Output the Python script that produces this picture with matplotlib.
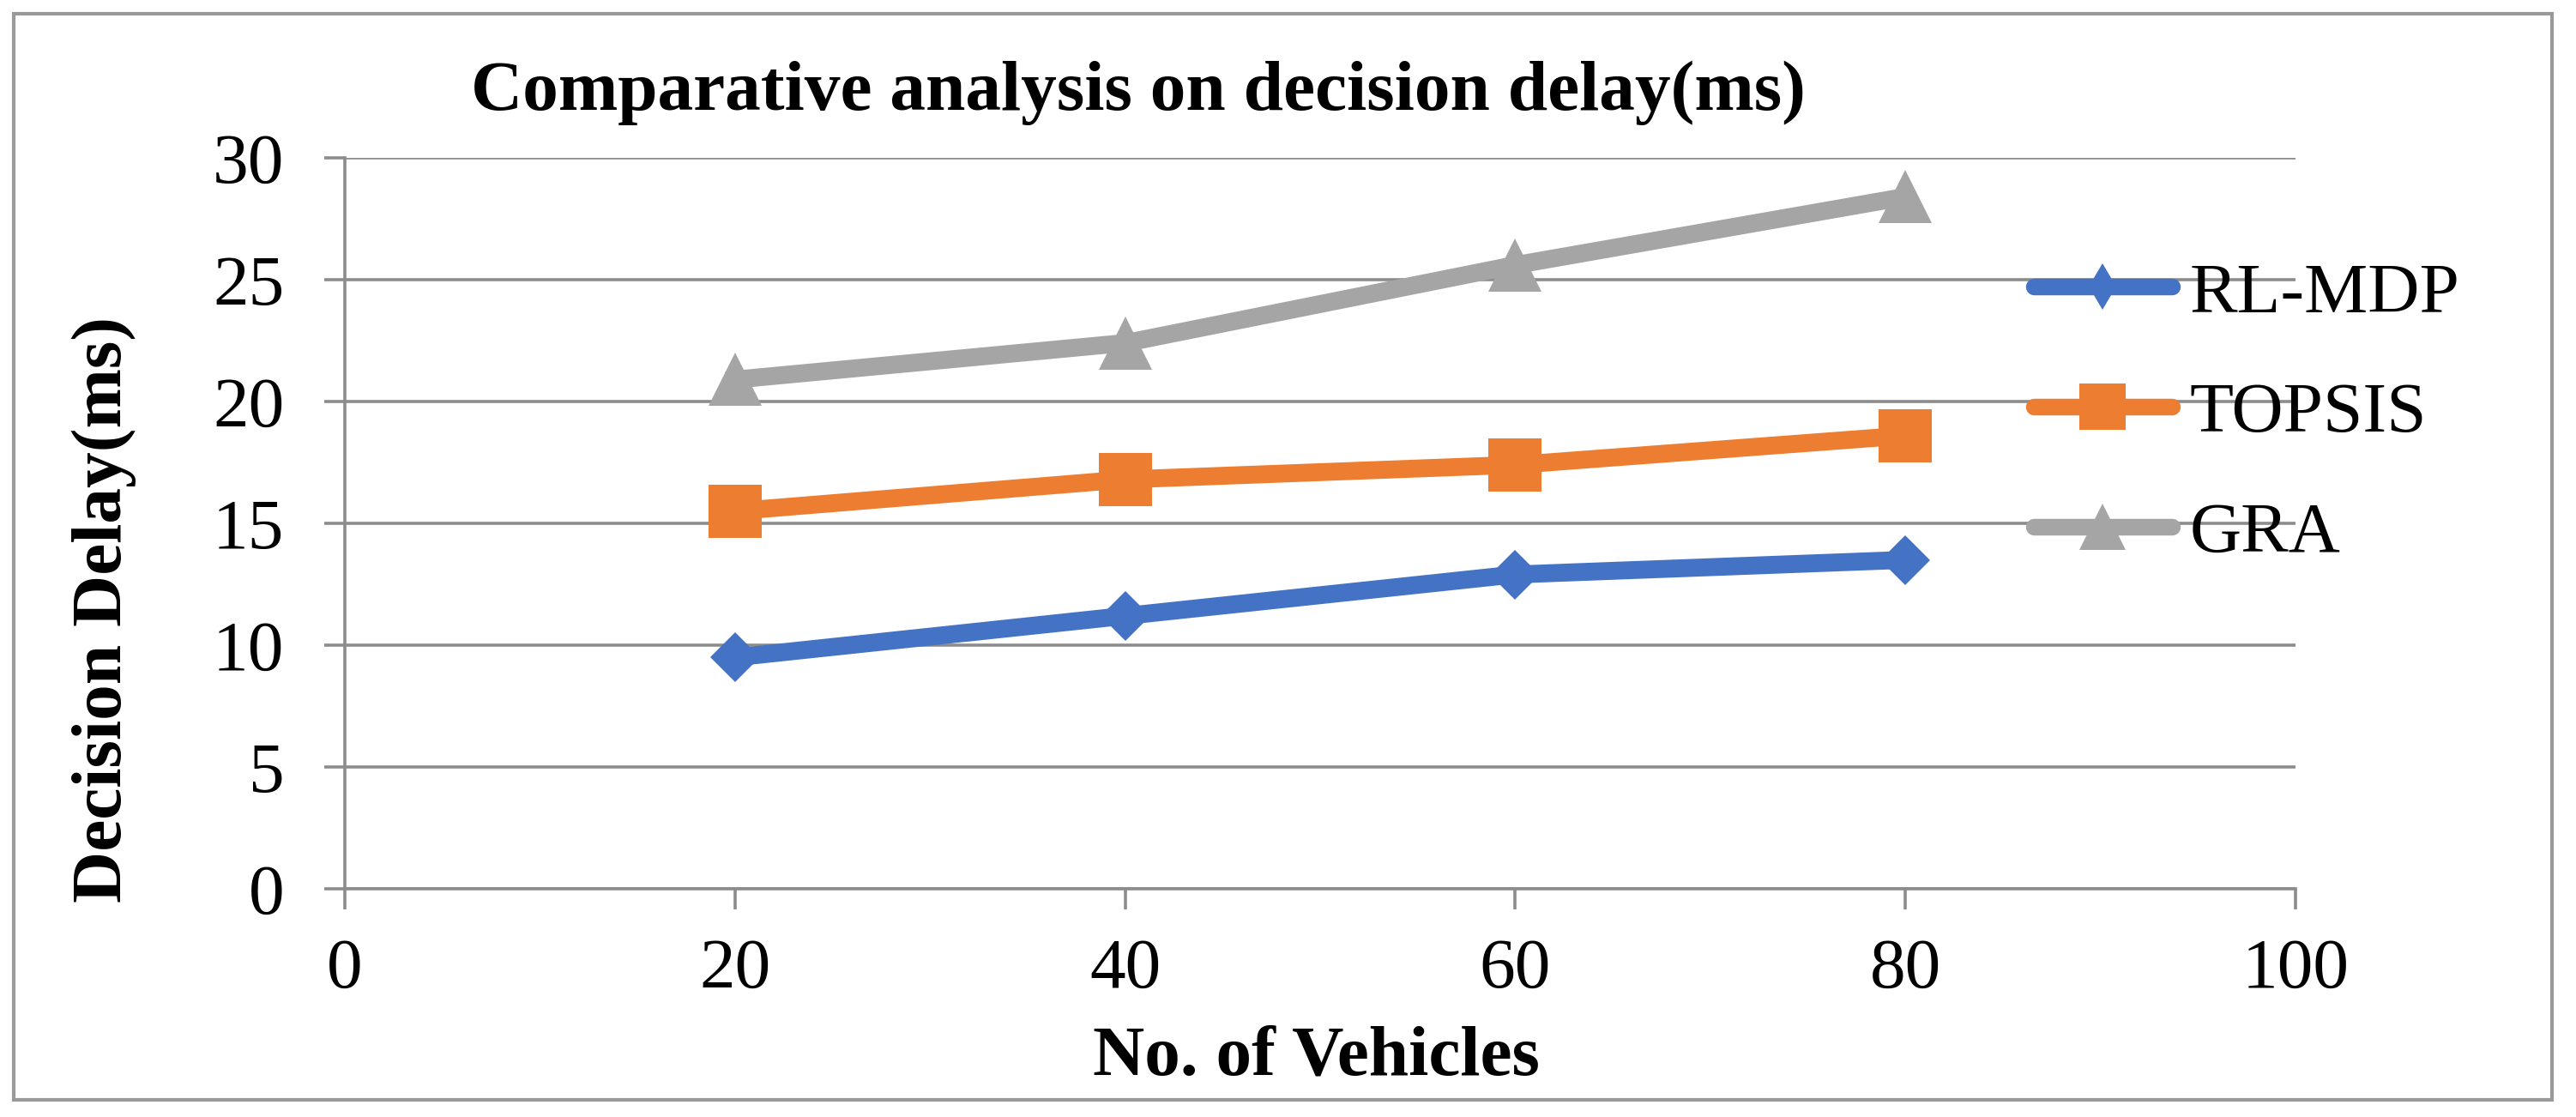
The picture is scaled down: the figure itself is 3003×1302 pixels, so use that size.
import matplotlib
matplotlib.use("Agg")
import matplotlib.pyplot as plt
from matplotlib.lines import Line2D
from matplotlib.patches import Rectangle

# data
vehicles = [20, 40, 60, 80]
rl_mdp = [9.5, 11.2, 12.9, 13.5]
topsis = [15.5, 16.8, 17.4, 18.6]
gra = [20.9, 22.4, 25.6, 28.4]

series_names = ["RL-MDP", "TOPSIS", "GRA"]
x_ticks = [0, 20, 40, 60, 80, 100]
y_ticks = [0, 5, 10, 15, 20, 25, 30]

W, H = 3003, 1302
plt.rcParams["font.family"] = ["Liberation Serif", "DejaVu Serif"]

fig = plt.figure(figsize=(W / 100, H / 100), dpi=100)
# plot area in pixels: x 402..2676, y 184..1036
ax = fig.add_axes([402 / W, 1 - 1036 / H, (2676 - 402) / W, (1036 - 184) / H])

grid_col = "#8c8c8c"
blue, orange, grey = "#4472C4", "#ED7D31", "#A5A5A5"

ax.plot(vehicles, gra, color=grey, lw=15, marker="^", ms=44, mew=0,
        solid_joinstyle="round", zorder=3)
ax.plot(vehicles, topsis, color=orange, lw=15, marker="s", ms=44, mew=0,
        solid_joinstyle="round", zorder=3)
ax.plot(vehicles, rl_mdp, color=blue, lw=15, marker="D", ms=30, mew=0,
        solid_joinstyle="round", zorder=3)

ax.set_xlim(0, 100)
ax.set_ylim(0, 30)
ax.set_xticks(x_ticks)
ax.set_yticks(y_ticks)
ax.yaxis.grid(True, color=grid_col, lw=2.6)
ax.set_axisbelow(True)
for s in ["top", "right"]:
    ax.spines[s].set_visible(False)
for s in ["left", "bottom"]:
    ax.spines[s].set_color(grid_col)
    ax.spines[s].set_linewidth(2.6)
ax.tick_params(axis="both", direction="out", length=17, width=2.6,
               color=grid_col, labelsize=60)
ax.tick_params(axis="x", pad=24)
ax.tick_params(axis="y", pad=34)

# legend (Excel style, thin diamond in the key)
handles = [
    Line2D([], [], color=blue, lw=14, marker="d", ms=27, mew=0, solid_capstyle="round"),
    Line2D([], [], color=orange, lw=14, marker="s", ms=39, mew=0, solid_capstyle="round"),
    Line2D([], [], color=grey, lw=14, marker="^", ms=39, mew=0, solid_capstyle="round"),
]
fig.legend(handles, series_names, loc="center left",
           bbox_to_anchor=(2371 / W, 1 - 483 / H), frameon=False,
           fontsize=60, handlelength=1.93, handletextpad=0.25,
           labelspacing=0.76, borderpad=0, borderaxespad=0)

fig.text(1327 / W, 1 - 128 / H, "Comparative analysis on decision delay(ms)",
         fontsize=60, fontweight="bold", ha="center", va="baseline")
fig.text(1534 / W, 1 - 1252 / H, "No. of Vehicles",
         fontsize=60, fontweight="bold", ha="center", va="baseline")
fig.text(121 / W, 1 - 710 / H, "Decision Delay(ms)", rotation=90,
         fontsize=60, fontweight="bold", ha="center", va="center")

# outer chart border
fig.add_artist(Rectangle((16 / W, 1 - 1282 / H), (2975 - 16) / W, (1282 - 16) / H,
                         transform=fig.transFigure, fill=False,
                         ec="#999999", lw=3))

fig.savefig("out.png", dpi=100)
